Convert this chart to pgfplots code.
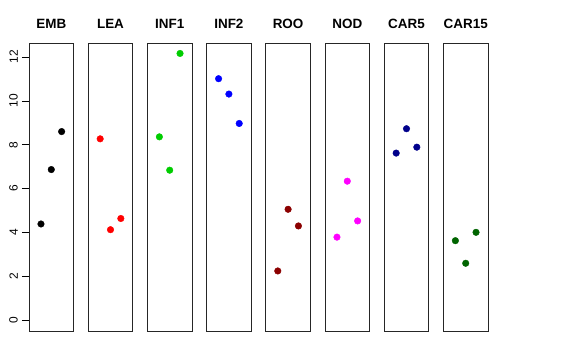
\documentclass[border=0pt]{standalone}
\usepackage{pgfplots}
\pgfplotsset{compat=1.18}
\usepackage{fontspec}
\setmainfont{Liberation Sans}
\definecolor{rgreen}{HTML}{00CD00}
\definecolor{rred}{HTML}{FF0000}
\definecolor{rblue}{HTML}{0000FF}
\definecolor{rmagenta}{HTML}{FF00FF}
\definecolor{rdarkred}{HTML}{8B0000}
\definecolor{rdarkblue}{HTML}{00008B}
\definecolor{rdarkgreen}{HTML}{006400}
\pgfplotsset{
  panel/.style={
    anchor=north west, scale only axis, width=44.6bp, height=288bp,
    xmin=-0.16, xmax=4.16, ymin=-0.486, ymax=12.636,
    xtick=\empty, ytick=\empty,
    axis line style={line width=0.7pt, black!85},
    title style={anchor=base, at={(0.5,1)}, yshift=9bp, inner sep=0pt,
      font=\bfseries\fontsize{13.5}{14}\selectfont},
    clip=false,
  },
  dots/.style={only marks, mark=*, mark size=3.3bp, mark options={draw=#1, fill=#1}},
}
\begin{document}
\begin{tikzpicture}
\path[use as bounding box] (0,0) rectangle (576bp,-360bp);
\begin{axis}[panel, at={(29bp,-43bp)}, title={EMB},
  ytick={0,2,4,6,8,10,12}, ytick pos=left, tick align=outside,
  major tick length=7bp, tick style={black, line width=0.6pt},
  /pgf/number format/assume math mode=true,
  yticklabel style={rotate=90, anchor=south, inner sep=0pt, font=\fontsize{12}{12}\selectfont},
  yticklabel shift={4bp}]
\addplot[dots=black] coordinates {(1,4.39) (2,6.87) (3,8.60)};
\end{axis}
\begin{axis}[panel, at={(88.2bp,-43bp)}, title={LEA}]
\addplot[dots=rred] coordinates {(1,8.27) (2,4.13) (3,4.64)};
\end{axis}
\begin{axis}[panel, at={(147.4bp,-43bp)}, title={INF1}]
\addplot[dots=rgreen] coordinates {(1,8.36) (2,6.84) (3,12.16)};
\end{axis}
\begin{axis}[panel, at={(206.6bp,-43bp)}, title={INF2}]
\addplot[dots=rblue] coordinates {(1,11.01) (2,10.31) (3,8.97)};
\end{axis}
\begin{axis}[panel, at={(265.8bp,-43bp)}, title={ROO}]
\addplot[dots=rdarkred] coordinates {(1,2.25) (2,5.06) (3,4.30)};
\end{axis}
\begin{axis}[panel, at={(325bp,-43bp)}, title={NOD}]
\addplot[dots=rmagenta] coordinates {(1,3.79) (2,6.34) (3,4.53)};
\end{axis}
\begin{axis}[panel, at={(384.2bp,-43bp)}, title={CAR5}]
\addplot[dots=rdarkblue] coordinates {(1,7.62) (2,8.73) (3,7.89)};
\end{axis}
\begin{axis}[panel, at={(443.4bp,-43bp)}, title={CAR15}]
\addplot[dots=rdarkgreen] coordinates {(1,3.63) (2,2.60) (3,4.01)};
\end{axis}
\end{tikzpicture}
\end{document}
